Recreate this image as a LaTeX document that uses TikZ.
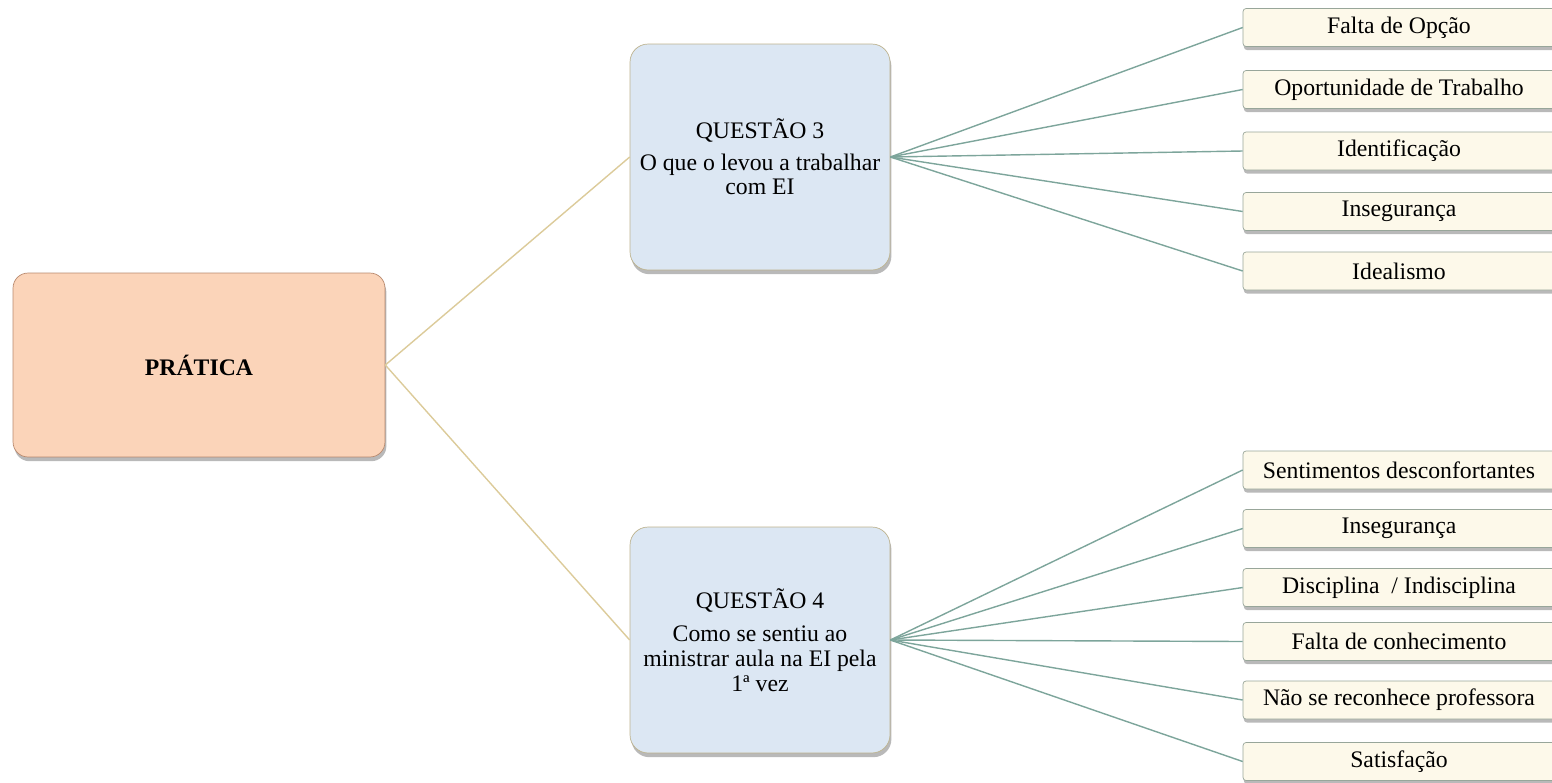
\documentclass[tikz,border=0pt]{standalone}
\usepackage{fontspec}
\setmainfont{Liberation Serif}
\usetikzlibrary{shadows}

\definecolor{peach}{HTML}{FBD4B9}
\definecolor{peachedge}{HTML}{B98A6E}
\definecolor{qblue}{HTML}{DCE7F3}
\definecolor{qedge}{HTML}{BDB38F}
\definecolor{cream}{HTML}{FDF9EA}
\definecolor{creamedge}{HTML}{98A69A}
\definecolor{tanlink}{HTML}{DCCB9A}
\definecolor{teallink}{HTML}{7DA59B}

\begin{document}
\begin{tikzpicture}[x=0.02cm,y=-0.02cm,
  every node/.style={font=\fontsize{13.5}{14}\selectfont},
  topic/.style={draw=peachedge,fill=peach,rounded corners=0.3cm,minimum width=7.44cm,minimum height=3.68cm,
    drop shadow={shadow xshift=0.8pt,shadow yshift=-2.4pt,fill=black!55}},
  question/.style={draw=qedge,fill=qblue,rounded corners=0.36cm,minimum width=5.2cm,minimum height=4.52cm,align=center,
    drop shadow={shadow xshift=0.8pt,shadow yshift=-2.4pt,fill=black!55}},
  answer/.style={draw=creamedge,fill=cream,rounded corners=0.06cm,minimum width=6.24cm,minimum height=0.76cm,inner sep=0pt,
    drop shadow={shadow xshift=0.5pt,shadow yshift=-2pt,fill=black!55}},
  leftlink/.style={draw=tanlink,line width=0.8pt},
  rightlink/.style={draw=teallink,line width=0.8pt}]
\useasboundingbox (0,0) rectangle (1552,782);
\clip (0,0) rectangle (1552,782);

\node [topic] (pratica) at (199,365) {\textbf{PRÁTICA}};

\node [question] (q3) at (760,157) {QUESTÃO 3\\[4pt]O que o levou a trabalhar\\com EI};
\node [question] (q4) at (760,640) {QUESTÃO 4\\[5pt]Como se sentiu ao\\ministrar aula na EI pela\\1ª vez};

\node [answer] (opcao) at (1399,27.5) {Falta de Opção};
\node [answer] (oportunidade) at (1399,89.5) {Oportunidade de Trabalho};
\node [answer] (identificacao) at (1399,151) {Identificação};
\node [answer] (inseguranca) at (1399,211.5) {Insegurança};
\node [answer] (idealismo) at (1399,271) {Idealismo};

\node [answer] (sentimentos) at (1399,470) {Sentimentos desconfortantes};
\node [answer] (insegurancab) at (1399,528.5) {Insegurança};
\node [answer] (disciplina) at (1399,587.5) {Disciplina~ / Indisciplina};
\node [answer] (conhecimento) at (1399,641.5) {Falta de conhecimento};
\node [answer] (professora) at (1399,700) {Não se reconhece professora};
\node [answer] (satisfacao) at (1399,761.5) {Satisfação};

\draw [leftlink] (pratica.east) -- (q3.west);
\draw [leftlink] (pratica.east) -- (q4.west);

\draw [rightlink] (q3.east) -- (opcao.west);
\draw [rightlink] (q3.east) -- (oportunidade.west);
\draw [rightlink] (q3.east) -- (identificacao.west);
\draw [rightlink] (q3.east) -- (inseguranca.west);
\draw [rightlink] (q3.east) -- (idealismo.west);

\draw [rightlink] (q4.east) -- (sentimentos.west);
\draw [rightlink] (q4.east) -- (insegurancab.west);
\draw [rightlink] (q4.east) -- (disciplina.west);
\draw [rightlink] (q4.east) -- (conhecimento.west);
\draw [rightlink] (q4.east) -- (professora.west);
\draw [rightlink] (q4.east) -- (satisfacao.west);
\end{tikzpicture}
\end{document}
